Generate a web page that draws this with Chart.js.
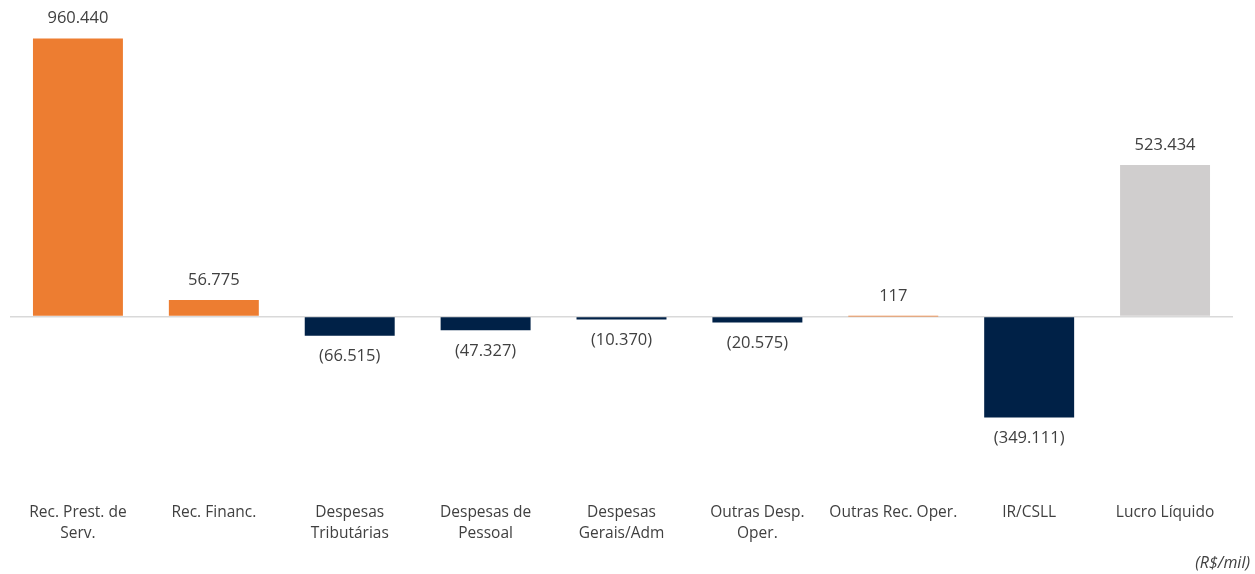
<!DOCTYPE html>
<html>
<head>
<meta charset="utf-8">
<script src="https://cdn.jsdelivr.net/npm/chart.js@4/dist/chart.umd.min.js"></script>
<style>
  html, body { margin: 0; padding: 0; background: #ffffff; }
  #wrap { position: relative; width: 1255px; height: 574px; }
</style>
</head>
<body>
<div id="wrap"><canvas id="c" width="1255" height="574"></canvas></div>
<script>
// Resultado do exercício (R$ mil)
const categories = [
  ['Rec. Prest. de', 'Serv.'],
  'Rec. Financ.',
  ['Despesas', 'Tributárias'],
  ['Despesas de', 'Pessoal'],
  ['Despesas', 'Gerais/Adm'],
  ['Outras Desp.', 'Oper.'],
  'Outras Rec. Oper.',
  'IR/CSLL',
  'Lucro Líquido'
];
const values = [960440, 56775, -66515, -47327, -10370, -20575, 117, -349111, 523434];
const barColors = ['#ED7D31', '#ED7D31', '#002147', '#002147', '#002147', '#002147', '#ED7D31', '#002147', '#D0CECE'];
const unitLabel = '(R$/mil)';

const textColor = '#404040';

function fmt(v) {
  const s = Math.abs(v).toString().replace(/\B(?=(\d{3})+(?!\d))/g, '.');
  return v < 0 ? '(' + s + ')' : s;
}

// Value labels above positive bars and below negative bars
const valueLabels = {
  id: 'valueLabels',
  afterDatasetsDraw(chart) {
    const ctx = chart.ctx;
    const meta = chart.getDatasetMeta(0);
    const y0 = chart.scales.y.getPixelForValue(0);
    ctx.save();
    ctx.font = '16.5px "Open Sans"';
    ctx.fillStyle = textColor;
    ctx.textAlign = 'center';
    ctx.textBaseline = 'middle';
    meta.data.forEach((bar, i) => {
      const v = values[i];
      const y = v >= 0 ? Math.min(bar.y, y0) - 20 : Math.max(bar.y, y0) + 21;
      ctx.fillText(fmt(v), bar.x, y);
    });
    ctx.restore();
  }
};

// Unit note in the bottom-right corner
const unitNote = {
  id: 'unitNote',
  afterDraw(chart) {
    const ctx = chart.ctx;
    ctx.save();
    ctx.font = 'italic 16px "Open Sans"';
    ctx.fillStyle = textColor;
    ctx.textAlign = 'right';
    ctx.textBaseline = 'middle';
    ctx.fillText(unitLabel, 1250, 563);
    ctx.restore();
  }
};

new Chart(document.getElementById('c'), {
  type: 'bar',
  data: {
    labels: categories,
    datasets: [{
      data: values,
      backgroundColor: barColors,
      borderWidth: 0,
      barPercentage: 0.662,
      categoryPercentage: 1
    }]
  },
  options: {
    responsive: false,
    animation: false,
    layout: { padding: { left: 10, right: 22, top: 27, bottom: 18 } },
    plugins: {
      legend: { display: false },
      tooltip: { enabled: false }
    },
    scales: {
      x: {
        grid: { display: false, drawTicks: false },
        border: { display: false },
        ticks: {
          color: textColor,
          font: { family: '"Open Sans"', size: 15.5, lineHeight: 1.35 },
          padding: 12,
          maxRotation: 0,
          autoSkip: false
        }
      },
      y: {
        min: -600000,
        max: 1000000,
        border: { display: false },
        ticks: { display: false },
        grid: {
          drawTicks: false,
          lineWidth: 1.5,
          color: c => (c.tick && c.tick.value === 0 ? '#D9D9D9' : 'rgba(0,0,0,0)')
        }
      }
    }
  },
  plugins: [valueLabels, unitNote]
});
</script>
</body>
</html>
